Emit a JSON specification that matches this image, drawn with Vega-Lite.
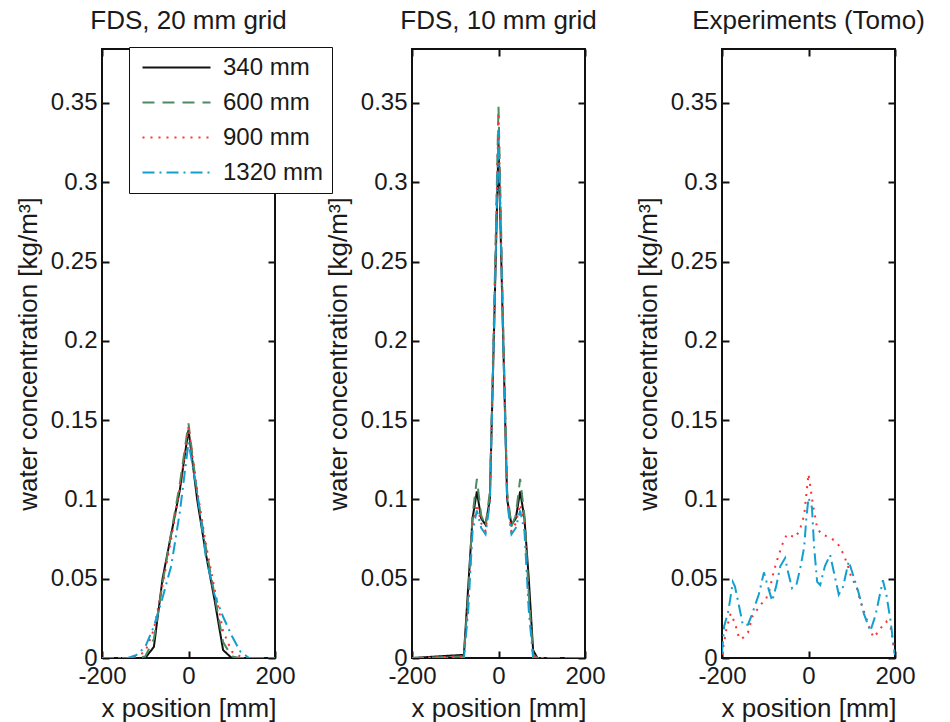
{
  "$schema": "https://vega.github.io/schema/vega-lite/v6.json",
  "padding": {"left": 14, "top": 7, "right": 5, "bottom": 0},
  "background": "white",
  "spacing": 27,
  "config": {
    "font": "Liberation Sans",
    "view": {"stroke": "#111111", "strokeWidth": 2},
    "axis": {
      "domain": false, "grid": false, "ticks": true, "tickSize": -7, "tickWidth": 2, "tickColor": "#111111",
      "labelFont": "Liberation Sans", "labelFontSize": 24, "labelColor": "#1a1a1a", "labelPadding": 12,
      "labelOverlap": false, "labelFlush": false, "labelBound": false,
      "titleFont": "Liberation Sans", "titleFontSize": 26, "titleFontWeight": "normal", "titleColor": "#1a1a1a"
    },
    "axisY": {"titlePadding": 9, "labelPadding": 12},
    "axisX": {"titlePadding": 7, "labelPadding": 13},
    "title": {"font": "Liberation Sans", "fontSize": 26, "fontWeight": "normal", "color": "#1a1a1a", "offset": 14, "anchor": "middle", "frame": "group"}
  },
  "datasets": {
    "d": [
      {"p":1,"s":"340 mm","x":-200,"y":0},{"p":1,"s":"340 mm","x":-100,"y":0},{"p":1,"s":"340 mm","x":-80,"y":0.007},{"p":1,"s":"340 mm","x":-60,"y":0.05},{"p":1,"s":"340 mm","x":-40,"y":0.078},{"p":1,"s":"340 mm","x":-20,"y":0.106},{"p":1,"s":"340 mm","x":0,"y":0.144},{"p":1,"s":"340 mm","x":20,"y":0.1},{"p":1,"s":"340 mm","x":40,"y":0.066},{"p":1,"s":"340 mm","x":60,"y":0.037},{"p":1,"s":"340 mm","x":80,"y":0.005},{"p":1,"s":"340 mm","x":100,"y":0},{"p":1,"s":"340 mm","x":200,"y":0},
      {"p":1,"s":"600 mm","x":-200,"y":0},{"p":1,"s":"600 mm","x":-120,"y":0},{"p":1,"s":"600 mm","x":-100,"y":0.001},{"p":1,"s":"600 mm","x":-80,"y":0.012},{"p":1,"s":"600 mm","x":-60,"y":0.047},{"p":1,"s":"600 mm","x":-40,"y":0.079},{"p":1,"s":"600 mm","x":-20,"y":0.11},{"p":1,"s":"600 mm","x":0,"y":0.148},{"p":1,"s":"600 mm","x":20,"y":0.104},{"p":1,"s":"600 mm","x":40,"y":0.07},{"p":1,"s":"600 mm","x":60,"y":0.04},{"p":1,"s":"600 mm","x":80,"y":0.01},{"p":1,"s":"600 mm","x":100,"y":0.001},{"p":1,"s":"600 mm","x":120,"y":0},{"p":1,"s":"600 mm","x":200,"y":0},
      {"p":1,"s":"900 mm","x":-200,"y":0},{"p":1,"s":"900 mm","x":-140,"y":0},{"p":1,"s":"900 mm","x":-120,"y":0.001},{"p":1,"s":"900 mm","x":-100,"y":0.004},{"p":1,"s":"900 mm","x":-80,"y":0.018},{"p":1,"s":"900 mm","x":-60,"y":0.046},{"p":1,"s":"900 mm","x":-40,"y":0.075},{"p":1,"s":"900 mm","x":-20,"y":0.107},{"p":1,"s":"900 mm","x":0,"y":0.146},{"p":1,"s":"900 mm","x":20,"y":0.106},{"p":1,"s":"900 mm","x":40,"y":0.072},{"p":1,"s":"900 mm","x":60,"y":0.044},{"p":1,"s":"900 mm","x":80,"y":0.017},{"p":1,"s":"900 mm","x":100,"y":0.004},{"p":1,"s":"900 mm","x":120,"y":0.001},{"p":1,"s":"900 mm","x":140,"y":0},{"p":1,"s":"900 mm","x":200,"y":0},
      {"p":1,"s":"1320 mm","x":-200,"y":0},{"p":1,"s":"1320 mm","x":-140,"y":0},{"p":1,"s":"1320 mm","x":-120,"y":0.002},{"p":1,"s":"1320 mm","x":-100,"y":0.007},{"p":1,"s":"1320 mm","x":-80,"y":0.02},{"p":1,"s":"1320 mm","x":-60,"y":0.038},{"p":1,"s":"1320 mm","x":-40,"y":0.058},{"p":1,"s":"1320 mm","x":-20,"y":0.092},{"p":1,"s":"1320 mm","x":0,"y":0.136},{"p":1,"s":"1320 mm","x":20,"y":0.105},{"p":1,"s":"1320 mm","x":40,"y":0.064},{"p":1,"s":"1320 mm","x":60,"y":0.04},{"p":1,"s":"1320 mm","x":80,"y":0.026},{"p":1,"s":"1320 mm","x":100,"y":0.014},{"p":1,"s":"1320 mm","x":120,"y":0.004},{"p":1,"s":"1320 mm","x":140,"y":0},{"p":1,"s":"1320 mm","x":200,"y":0},

      {"p":2,"s":"340 mm","x":-200,"y":0},{"p":2,"s":"340 mm","x":-80,"y":0.002},{"p":2,"s":"340 mm","x":-70,"y":0.045},{"p":2,"s":"340 mm","x":-60,"y":0.088},{"p":2,"s":"340 mm","x":-50,"y":0.105},{"p":2,"s":"340 mm","x":-40,"y":0.088},{"p":2,"s":"340 mm","x":-30,"y":0.084},{"p":2,"s":"340 mm","x":-20,"y":0.1},{"p":2,"s":"340 mm","x":-10,"y":0.21},{"p":2,"s":"340 mm","x":0,"y":0.325},{"p":2,"s":"340 mm","x":10,"y":0.21},{"p":2,"s":"340 mm","x":20,"y":0.1},{"p":2,"s":"340 mm","x":30,"y":0.084},{"p":2,"s":"340 mm","x":40,"y":0.088},{"p":2,"s":"340 mm","x":50,"y":0.105},{"p":2,"s":"340 mm","x":60,"y":0.088},{"p":2,"s":"340 mm","x":70,"y":0.05},{"p":2,"s":"340 mm","x":80,"y":0.005},{"p":2,"s":"340 mm","x":90,"y":0},{"p":2,"s":"340 mm","x":200,"y":0},
      {"p":2,"s":"600 mm","x":-200,"y":0},{"p":2,"s":"600 mm","x":-80,"y":0.001},{"p":2,"s":"600 mm","x":-70,"y":0.04},{"p":2,"s":"600 mm","x":-60,"y":0.09},{"p":2,"s":"600 mm","x":-50,"y":0.113},{"p":2,"s":"600 mm","x":-40,"y":0.09},{"p":2,"s":"600 mm","x":-30,"y":0.083},{"p":2,"s":"600 mm","x":-20,"y":0.105},{"p":2,"s":"600 mm","x":-10,"y":0.22},{"p":2,"s":"600 mm","x":0,"y":0.348},{"p":2,"s":"600 mm","x":10,"y":0.22},{"p":2,"s":"600 mm","x":20,"y":0.105},{"p":2,"s":"600 mm","x":30,"y":0.083},{"p":2,"s":"600 mm","x":40,"y":0.09},{"p":2,"s":"600 mm","x":50,"y":0.113},{"p":2,"s":"600 mm","x":60,"y":0.09},{"p":2,"s":"600 mm","x":70,"y":0.04},{"p":2,"s":"600 mm","x":80,"y":0.002},{"p":2,"s":"600 mm","x":90,"y":0},{"p":2,"s":"600 mm","x":200,"y":0},
      {"p":2,"s":"900 mm","x":-200,"y":0},{"p":2,"s":"900 mm","x":-80,"y":0.001},{"p":2,"s":"900 mm","x":-70,"y":0.035},{"p":2,"s":"900 mm","x":-60,"y":0.085},{"p":2,"s":"900 mm","x":-50,"y":0.097},{"p":2,"s":"900 mm","x":-40,"y":0.085},{"p":2,"s":"900 mm","x":-30,"y":0.08},{"p":2,"s":"900 mm","x":-20,"y":0.1},{"p":2,"s":"900 mm","x":-10,"y":0.215},{"p":2,"s":"900 mm","x":0,"y":0.342},{"p":2,"s":"900 mm","x":10,"y":0.215},{"p":2,"s":"900 mm","x":20,"y":0.1},{"p":2,"s":"900 mm","x":30,"y":0.08},{"p":2,"s":"900 mm","x":40,"y":0.085},{"p":2,"s":"900 mm","x":50,"y":0.097},{"p":2,"s":"900 mm","x":60,"y":0.085},{"p":2,"s":"900 mm","x":70,"y":0.035},{"p":2,"s":"900 mm","x":80,"y":0.001},{"p":2,"s":"900 mm","x":90,"y":0},{"p":2,"s":"900 mm","x":200,"y":0},
      {"p":2,"s":"1320 mm","x":-200,"y":0},{"p":2,"s":"1320 mm","x":-80,"y":0},{"p":2,"s":"1320 mm","x":-70,"y":0.03},{"p":2,"s":"1320 mm","x":-60,"y":0.08},{"p":2,"s":"1320 mm","x":-50,"y":0.093},{"p":2,"s":"1320 mm","x":-40,"y":0.082},{"p":2,"s":"1320 mm","x":-30,"y":0.078},{"p":2,"s":"1320 mm","x":-20,"y":0.098},{"p":2,"s":"1320 mm","x":-10,"y":0.21},{"p":2,"s":"1320 mm","x":0,"y":0.333},{"p":2,"s":"1320 mm","x":10,"y":0.21},{"p":2,"s":"1320 mm","x":20,"y":0.098},{"p":2,"s":"1320 mm","x":30,"y":0.078},{"p":2,"s":"1320 mm","x":40,"y":0.082},{"p":2,"s":"1320 mm","x":50,"y":0.093},{"p":2,"s":"1320 mm","x":60,"y":0.08},{"p":2,"s":"1320 mm","x":70,"y":0.03},{"p":2,"s":"1320 mm","x":80,"y":0},{"p":2,"s":"1320 mm","x":200,"y":0},

      {"p":3,"s":"900 mm","x":-200,"y":0.002},{"p":3,"s":"900 mm","x":-190,"y":0.018},{"p":3,"s":"900 mm","x":-180,"y":0.028},{"p":3,"s":"900 mm","x":-170,"y":0.022},{"p":3,"s":"900 mm","x":-160,"y":0.012},{"p":3,"s":"900 mm","x":-150,"y":0.013},{"p":3,"s":"900 mm","x":-140,"y":0.016},{"p":3,"s":"900 mm","x":-130,"y":0.026},{"p":3,"s":"900 mm","x":-120,"y":0.03},{"p":3,"s":"900 mm","x":-110,"y":0.034},{"p":3,"s":"900 mm","x":-100,"y":0.036},{"p":3,"s":"900 mm","x":-90,"y":0.043},{"p":3,"s":"900 mm","x":-80,"y":0.055},{"p":3,"s":"900 mm","x":-70,"y":0.064},{"p":3,"s":"900 mm","x":-60,"y":0.072},{"p":3,"s":"900 mm","x":-50,"y":0.078},{"p":3,"s":"900 mm","x":-40,"y":0.077},{"p":3,"s":"900 mm","x":-30,"y":0.076},{"p":3,"s":"900 mm","x":-20,"y":0.081},{"p":3,"s":"900 mm","x":-10,"y":0.09},{"p":3,"s":"900 mm","x":0,"y":0.116},{"p":3,"s":"900 mm","x":10,"y":0.097},{"p":3,"s":"900 mm","x":20,"y":0.082},{"p":3,"s":"900 mm","x":30,"y":0.078},{"p":3,"s":"900 mm","x":40,"y":0.077},{"p":3,"s":"900 mm","x":50,"y":0.076},{"p":3,"s":"900 mm","x":60,"y":0.074},{"p":3,"s":"900 mm","x":70,"y":0.071},{"p":3,"s":"900 mm","x":80,"y":0.066},{"p":3,"s":"900 mm","x":90,"y":0.059},{"p":3,"s":"900 mm","x":100,"y":0.05},{"p":3,"s":"900 mm","x":110,"y":0.046},{"p":3,"s":"900 mm","x":120,"y":0.036},{"p":3,"s":"900 mm","x":130,"y":0.028},{"p":3,"s":"900 mm","x":140,"y":0.02},{"p":3,"s":"900 mm","x":150,"y":0.013},{"p":3,"s":"900 mm","x":160,"y":0.016},{"p":3,"s":"900 mm","x":170,"y":0.02},{"p":3,"s":"900 mm","x":180,"y":0.023},{"p":3,"s":"900 mm","x":190,"y":0.019},{"p":3,"s":"900 mm","x":200,"y":0.002},
      {"p":3,"s":"1320 mm","x":-200,"y":0.003},{"p":3,"s":"1320 mm","x":-195,"y":0.02},{"p":3,"s":"1320 mm","x":-185,"y":0.03},{"p":3,"s":"1320 mm","x":-175,"y":0.048},{"p":3,"s":"1320 mm","x":-170,"y":0.045},{"p":3,"s":"1320 mm","x":-160,"y":0.032},{"p":3,"s":"1320 mm","x":-152,"y":0.021},{"p":3,"s":"1320 mm","x":-140,"y":0.021},{"p":3,"s":"1320 mm","x":-130,"y":0.028},{"p":3,"s":"1320 mm","x":-115,"y":0.04},{"p":3,"s":"1320 mm","x":-103,"y":0.054},{"p":3,"s":"1320 mm","x":-95,"y":0.046},{"p":3,"s":"1320 mm","x":-84,"y":0.036},{"p":3,"s":"1320 mm","x":-75,"y":0.045},{"p":3,"s":"1320 mm","x":-65,"y":0.058},{"p":3,"s":"1320 mm","x":-54,"y":0.063},{"p":3,"s":"1320 mm","x":-48,"y":0.055},{"p":3,"s":"1320 mm","x":-38,"y":0.044},{"p":3,"s":"1320 mm","x":-28,"y":0.046},{"p":3,"s":"1320 mm","x":-18,"y":0.058},{"p":3,"s":"1320 mm","x":-10,"y":0.07},{"p":3,"s":"1320 mm","x":-5,"y":0.088},{"p":3,"s":"1320 mm","x":0,"y":0.101},{"p":3,"s":"1320 mm","x":8,"y":0.095},{"p":3,"s":"1320 mm","x":13,"y":0.07},{"p":3,"s":"1320 mm","x":20,"y":0.048},{"p":3,"s":"1320 mm","x":27,"y":0.046},{"p":3,"s":"1320 mm","x":38,"y":0.058},{"p":3,"s":"1320 mm","x":50,"y":0.065},{"p":3,"s":"1320 mm","x":58,"y":0.055},{"p":3,"s":"1320 mm","x":70,"y":0.04},{"p":3,"s":"1320 mm","x":80,"y":0.045},{"p":3,"s":"1320 mm","x":93,"y":0.061},{"p":3,"s":"1320 mm","x":100,"y":0.055},{"p":3,"s":"1320 mm","x":115,"y":0.042},{"p":3,"s":"1320 mm","x":128,"y":0.028},{"p":3,"s":"1320 mm","x":143,"y":0.017},{"p":3,"s":"1320 mm","x":155,"y":0.027},{"p":3,"s":"1320 mm","x":165,"y":0.04},{"p":3,"s":"1320 mm","x":172,"y":0.049},{"p":3,"s":"1320 mm","x":180,"y":0.04},{"p":3,"s":"1320 mm","x":190,"y":0.023},{"p":3,"s":"1320 mm","x":197,"y":0.007},{"p":3,"s":"1320 mm","x":200,"y":0.002}
    ]
  },
  "hconcat": [
    {
      "width": 173, "height": 609,
      "title": "FDS, 20 mm grid",
      "data": {"name": "d"},
      "transform": [{"filter": "datum.p == 1"}],
      "layer": [
        {
          "mark": {"type": "line", "strokeWidth": 2, "clip": true},
          "encoding": {
            "x": {"field": "x", "type": "quantitative", "scale": {"domain": [-200, 200], "nice": false, "zero": false}, "axis": {"values": [-200, 0, 200], "title": "x position [mm]", "labelExpr": "'' + datum.value"}},
            "y": {"field": "y", "type": "quantitative", "scale": {"domain": [0, 0.384], "nice": false}, "axis": {"values": [0, 0.05, 0.1, 0.15, 0.2, 0.25, 0.3, 0.35], "format": ".2~f", "title": "water concentration [kg/m³]"}},
            "color": {"field": "s", "type": "nominal", "scale": {"domain": ["340 mm", "600 mm", "900 mm", "1320 mm"], "range": ["#111111", "#4d8a62", "#ff3030", "#139fce"]},
              "legend": {"title": null, "orient": "none", "legendX": 27, "legendY": -2, "symbolType": "M-3,0L3,0", "symbolSize": 514, "symbolStrokeWidth": 2, "labelFontSize": 24, "labelColor": "#1a1a1a", "labelFont": "Liberation Sans", "strokeColor": "#111111", "fillColor": "white", "padding": 8, "rowPadding": 10, "symbolOffset": 27, "labelOffset": 34}},
            "strokeDash": {"field": "s", "type": "nominal", "scale": {"domain": ["340 mm", "600 mm", "900 mm", "1320 mm"], "range": [[1, 0], [12, 8], [2, 6], [12, 5, 2, 5]]},
              "legend": {"title": null, "orient": "none", "legendX": 27, "legendY": -2, "symbolType": "M-3,0L3,0", "symbolSize": 514, "symbolStrokeWidth": 2, "labelFontSize": 24, "labelColor": "#1a1a1a", "labelFont": "Liberation Sans", "strokeColor": "#111111", "fillColor": "white", "padding": 8, "rowPadding": 10, "symbolOffset": 27, "labelOffset": 34}}
          }
        },
        {
          "mark": {"type": "point", "opacity": 0},
          "encoding": {
            "x": {"field": "x", "type": "quantitative", "scale": {"domain": [-200, 200], "nice": false, "zero": false}, "axis": {"orient": "top", "values": [-200, 0, 200], "labels": false, "title": null}},
            "y": {"field": "y", "type": "quantitative", "scale": {"domain": [0, 0.384], "nice": false}, "axis": {"orient": "right", "values": [0, 0.05, 0.1, 0.15, 0.2, 0.25, 0.3, 0.35], "labels": false, "title": null}}
          }
        }
      ],
      "resolve": {"axis": {"x": "independent", "y": "independent"}}
    },
    {
      "width": 173, "height": 609,
      "title": "FDS, 10 mm grid",
      "data": {"name": "d"},
      "transform": [{"filter": "datum.p == 2"}],
      "layer": [
        {
          "mark": {"type": "line", "strokeWidth": 2, "clip": true},
          "encoding": {
            "x": {"field": "x", "type": "quantitative", "scale": {"domain": [-200, 200], "nice": false, "zero": false}, "axis": {"values": [-200, 0, 200], "title": "x position [mm]", "labelExpr": "'' + datum.value"}},
            "y": {"field": "y", "type": "quantitative", "scale": {"domain": [0, 0.384], "nice": false}, "axis": {"values": [0, 0.05, 0.1, 0.15, 0.2, 0.25, 0.3, 0.35], "format": ".2~f", "title": "water concentration [kg/m³]"}},
            "color": {"field": "s", "type": "nominal", "scale": {"domain": ["340 mm", "600 mm", "900 mm", "1320 mm"], "range": ["#111111", "#4d8a62", "#ff3030", "#139fce"]}, "legend": null},
            "strokeDash": {"field": "s", "type": "nominal", "scale": {"domain": ["340 mm", "600 mm", "900 mm", "1320 mm"], "range": [[1, 0], [12, 8], [2, 6], [12, 5, 2, 5]]}, "legend": null}
          }
        },
        {
          "mark": {"type": "point", "opacity": 0},
          "encoding": {
            "x": {"field": "x", "type": "quantitative", "scale": {"domain": [-200, 200], "nice": false, "zero": false}, "axis": {"orient": "top", "values": [-200, 0, 200], "labels": false, "title": null}},
            "y": {"field": "y", "type": "quantitative", "scale": {"domain": [0, 0.384], "nice": false}, "axis": {"orient": "right", "values": [0, 0.05, 0.1, 0.15, 0.2, 0.25, 0.3, 0.35], "labels": false, "title": null}}
          }
        }
      ],
      "resolve": {"axis": {"x": "independent", "y": "independent"}}
    },
    {
      "width": 173, "height": 609,
      "title": "Experiments (Tomo)",
      "data": {"name": "d"},
      "transform": [{"filter": "datum.p == 3"}],
      "layer": [
        {
          "mark": {"type": "line", "strokeWidth": 2, "clip": true},
          "encoding": {
            "x": {"field": "x", "type": "quantitative", "scale": {"domain": [-200, 200], "nice": false, "zero": false}, "axis": {"values": [-200, 0, 200], "title": "x position [mm]", "labelExpr": "'' + datum.value"}},
            "y": {"field": "y", "type": "quantitative", "scale": {"domain": [0, 0.384], "nice": false}, "axis": {"values": [0, 0.05, 0.1, 0.15, 0.2, 0.25, 0.3, 0.35], "format": ".2~f", "title": "water concentration [kg/m³]"}},
            "color": {"field": "s", "type": "nominal", "scale": {"domain": ["340 mm", "600 mm", "900 mm", "1320 mm"], "range": ["#111111", "#4d8a62", "#ff3030", "#139fce"]}, "legend": null},
            "strokeDash": {"field": "s", "type": "nominal", "scale": {"domain": ["340 mm", "600 mm", "900 mm", "1320 mm"], "range": [[1, 0], [12, 8], [2, 6], [12, 5, 2, 5]]}, "legend": null}
          }
        },
        {
          "mark": {"type": "point", "opacity": 0},
          "encoding": {
            "x": {"field": "x", "type": "quantitative", "scale": {"domain": [-200, 200], "nice": false, "zero": false}, "axis": {"orient": "top", "values": [-200, 0, 200], "labels": false, "title": null}},
            "y": {"field": "y", "type": "quantitative", "scale": {"domain": [0, 0.384], "nice": false}, "axis": {"orient": "right", "values": [0, 0.05, 0.1, 0.15, 0.2, 0.25, 0.3, 0.35], "labels": false, "title": null}}
          }
        }
      ],
      "resolve": {"axis": {"x": "independent", "y": "independent"}}
    }
  ],
  "resolve": {"scale": {"color": "shared", "strokeDash": "shared"}}
}
